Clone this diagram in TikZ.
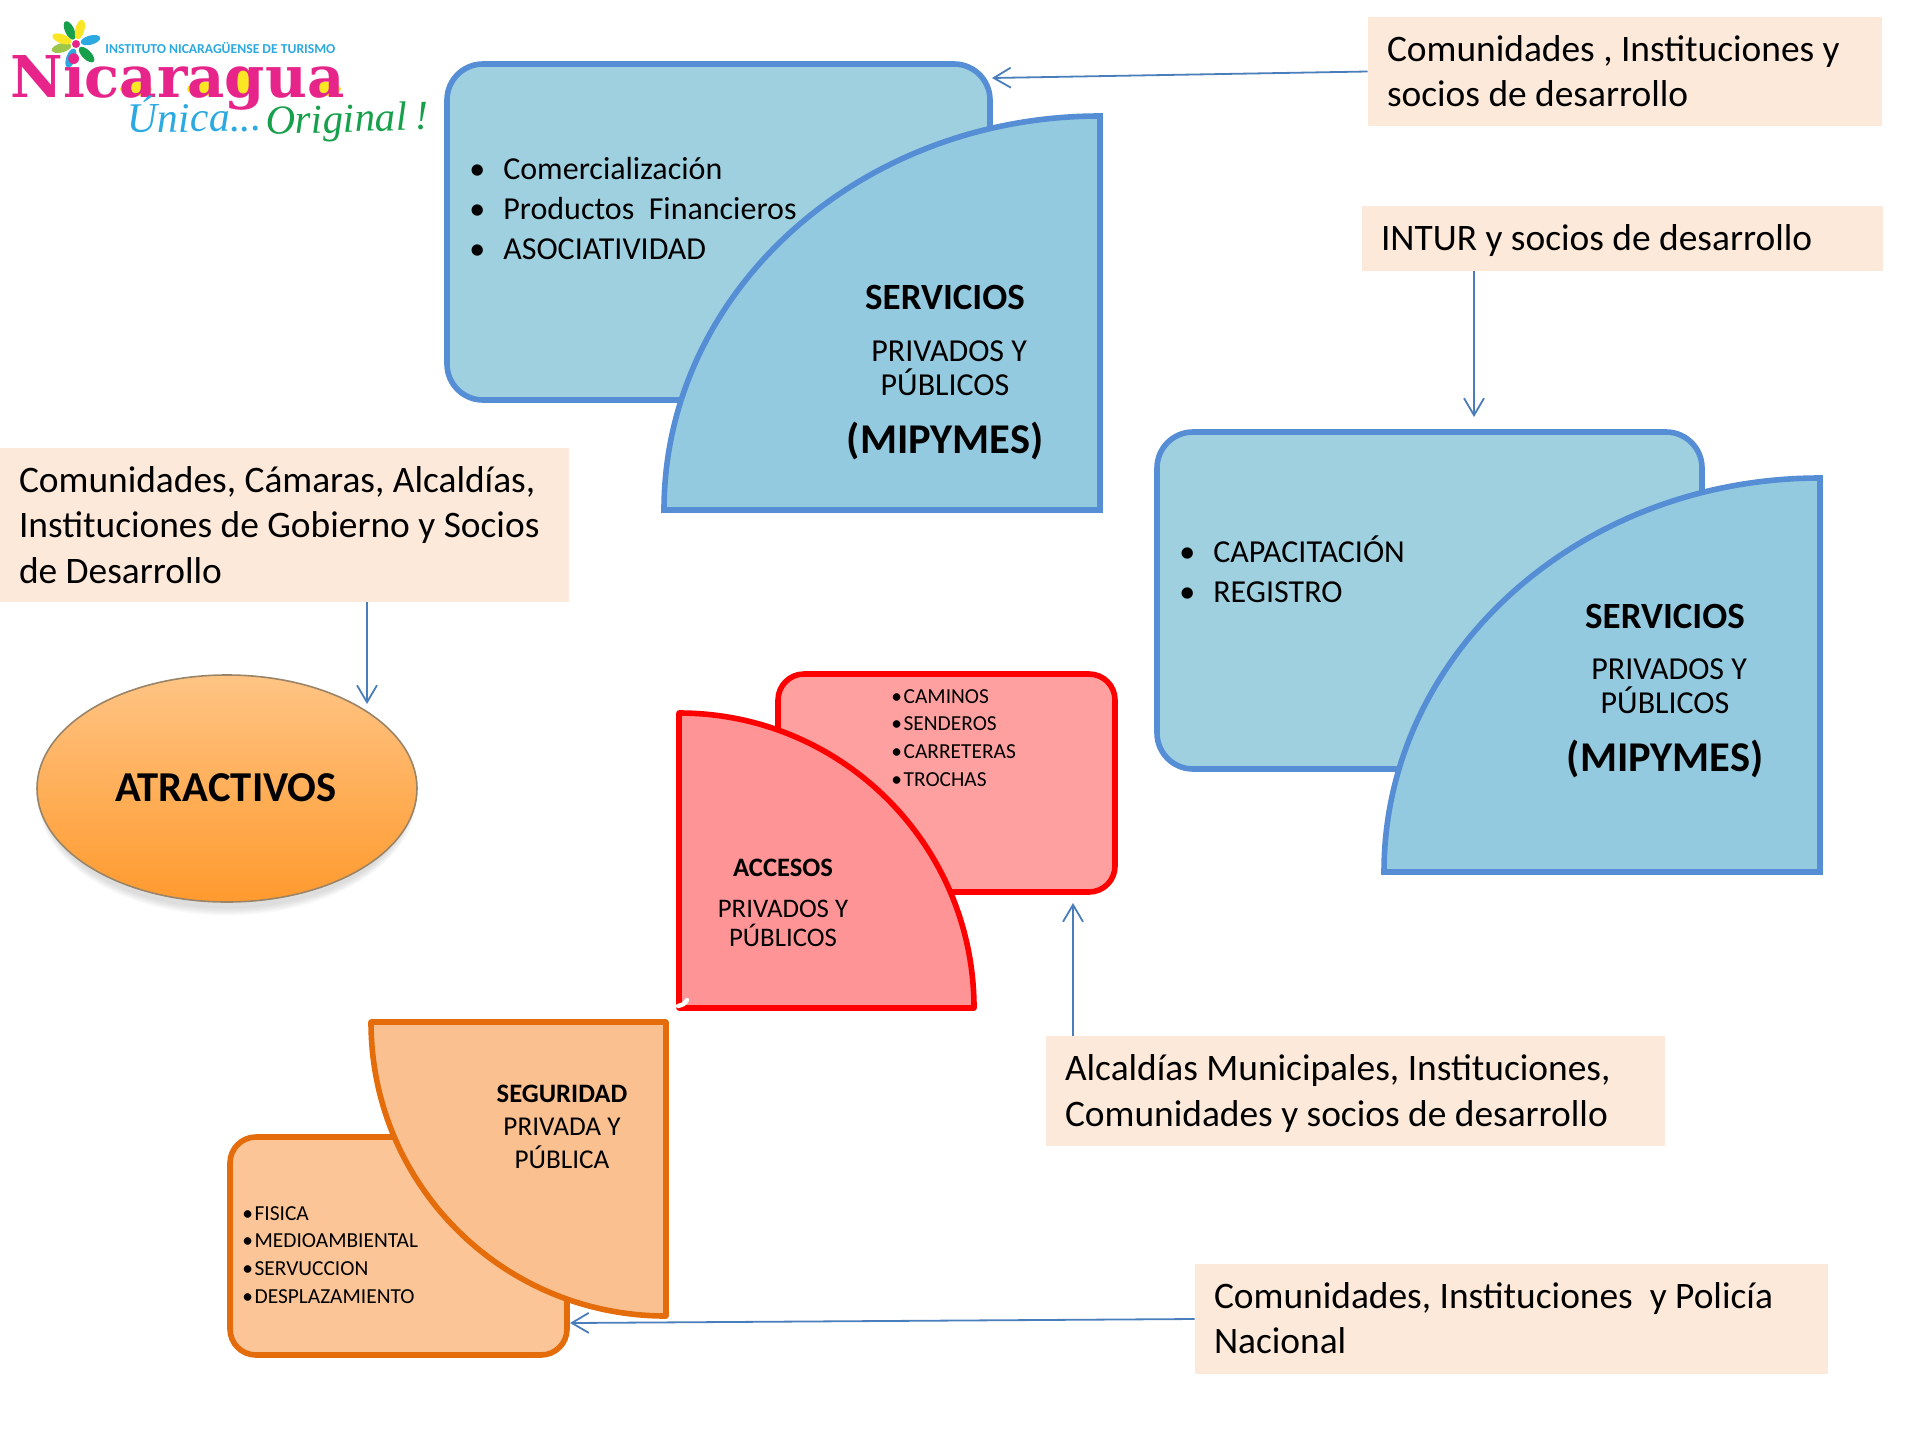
\documentclass[tikz,border=0pt]{standalone}
\usepackage{fontspec}
\setmainfont{Carlito}
\newfontfamily\logoserif{DejaVu Serif}
\newfontfamily\logoscript{Liberation Serif}
\usetikzlibrary{arrows.meta,shapes.geometric,calc}
\definecolor{peach}{HTML}{FDE9D9}
\definecolor{bluefill}{HTML}{9FD0E0}
\definecolor{bluequart}{HTML}{93CADF}
\definecolor{blueline}{HTML}{558ED5}
\definecolor{redfill}{HTML}{FFA0A0}
\definecolor{redquart}{HTML}{FF9497}
\definecolor{orangefill}{HTML}{FBC597}
\definecolor{orangequart}{HTML}{FAC090}
\definecolor{orangeline}{HTML}{E46C0A}
\definecolor{connblue}{HTML}{4A7EBB}
\definecolor{logopink}{HTML}{E6248A}
\definecolor{logoblue}{HTML}{2BA9E0}
\definecolor{logogreen}{HTML}{17A04C}
\definecolor{logoyellow}{HTML}{FBE625}
\definecolor{logolime}{HTML}{9CC74A}
\definecolor{elltop}{HTML}{FFC484}
\definecolor{ellbot}{HTML}{FF9A2E}
\definecolor{ellline}{HTML}{9A8468}
\tikzset{
  peachbox/.style={rectangle,fill=peach,inner ysep=0pt,inner xsep=9.5pt,align=flush left,
    font=\fontsize{18.7}{22.6}\selectfont},
  roundbox/.style={rectangle,rounded corners=#1,inner sep=0pt,line width=2.8pt,line join=round},
  quarter/.style={line width=2.8pt},
  conn/.style={draw=connblue,line width=0.9pt,-{Straight Barb[length=8.5pt,width=10pt,line width=0.9pt]}},
  lista/.style={inner sep=0pt,anchor=north west,align=left,font=\fontsize{16}{20}\selectfont},
  listb/.style={inner sep=0pt,anchor=north west,align=left,font=\fontsize{10.7}{13.8}\selectfont},
  head/.style={inner sep=0pt,align=center,font=\fontsize{18.5}{22}\bfseries\selectfont},
  sub/.style={inner sep=0pt,align=center,font=\fontsize{16}{17}\selectfont},
  big/.style={inner sep=0pt,align=center,font=\fontsize{21.2}{25}\bfseries\selectfont},
  smallhead/.style={inner sep=0pt,align=center,font=\fontsize{13.3}{16}\bfseries\selectfont},
  smallsub/.style={inner sep=0pt,align=center,font=\fontsize{13.4}{14.6}\selectfont},
  smallsubo/.style={inner sep=0pt,align=center,font=\fontsize{13.6}{16.6}\selectfont},
  petal/.style={ellipse,inner sep=0pt,minimum width=10pt,minimum height=4.6pt},
}
\newcommand{\bl}{\textbullet\hspace{9pt}}
\newcommand{\bs}{\textbullet\hspace{0.8pt}}
\begin{document}
\begin{tikzpicture}[x=0.5pt,y=-0.5pt]
\useasboundingbox (0,0) rectangle (1920,1440);

% logo
\foreach \ang/\col [count=\i] in {115/logogreen,75/logoyellow,15/logoblue,-45/logogreen,-110/logoblue,-165/logolime,160/logoyellow}{
  \node[petal,fill=\col,rotate=\ang] (petal\i) at ($(76,44)+(\ang:7.5pt)$) {};
}
\node[circle,fill=logopink,inner sep=0pt,minimum size=4pt] (flowerc) at (76,44) {};
\fill[logoyellow] (136,89) ellipse (8pt and 3.5pt);
\fill[logoyellow] (203,89) ellipse (8pt and 3.5pt);
\fill[logoyellow] (241,81) ellipse (6.5pt and 7pt);
\fill[logoyellow] (325,89) ellipse (8pt and 3.5pt);
\node[inner sep=0pt,anchor=base west,text=logopink] (logonic) at (10,97)
  {\resizebox{167pt}{!}{\logoserif\fontsize{34}{34}\bfseries\selectfont Nicaragua}};
\node[inner sep=0pt,anchor=base west,text=logoblue] (logoinst) at (105,54)
  {\resizebox{115pt}{!}{\fontsize{7}{8}\bfseries\selectfont INSTITUTO NICARAGÜENSE DE TURISMO}};
\node[inner sep=0pt,anchor=base west,text=logoblue,rotate=1] (logounica) at (127,133)
  {\logoscript\fontsize{21}{22}\itshape\selectfont Única...};
\node[inner sep=0pt,anchor=base west,text=logogreen,rotate=2] (logoorig) at (266,135)
  {\logoscript\fontsize{20.5}{22}\itshape\selectfont Original\hspace{4pt}!};

% blue group 1
\node[roundbox=18pt,draw=blueline,fill=bluefill,minimum width=271.5pt,minimum height=168pt] (b1rect) at (718.5,232) {};
\node[lista] (b1list) at (469,157) {\bl Comercialización\\\bl Productos\ \ Financieros\\\bl ASOCIATIVIDAD};
\draw[quarter,draw=blueline,fill=bluequart,line join=miter]
  (664,510) .. controls (664,292) and (859,116) .. (1100,116) -- (1100,510) -- cycle;
\node[head] (b1h) at (945,297) {SERVICIOS};
\node[sub] (b1s) at (945,368) {\hspace*{4.2pt}PRIVADOS Y\\PÚBLICOS};
\node[big] (b1m) at (945,440.5) {(MIPYMES)};

% blue group 2
\node[roundbox=18pt,draw=blueline,fill=bluefill,minimum width=272.5pt,minimum height=168.5pt] (b2rect) at (1429.5,600.5) {};
\node[lista] (b2list) at (1179,535) {\bl CAPACITACIÓN\\\bl REGISTRO};
\draw[quarter,draw=blueline,fill=bluequart,line join=miter]
  (1384,872) .. controls (1384,654) and (1579,478) .. (1820,478) -- (1820,872) -- cycle;
\node[head] (b2h) at (1665,616) {SERVICIOS};
\node[sub] (b2s) at (1665,686) {\hspace*{4.2pt}PRIVADOS Y\\PÚBLICOS};
\node[big] (b2m) at (1665,758.5) {(MIPYMES)};

% red group
\node[roundbox=13pt,draw=red,fill=redfill,minimum width=168.5pt,minimum height=109pt] (rrect) at (946.5,783) {};
\node[listb] (rlist) at (891,689) {\bs CAMINOS\\\bs SENDEROS\\\bs CARRETERAS\\\bs TROCHAS};
\draw[quarter,draw=red,fill=redquart,line join=round]
  (679,713) .. controls (842,713) and (974,845) .. (974,1008) -- (679,1008) -- cycle;
\draw[white,line width=2.2pt,line cap=round] (678,1006) .. controls (682,1005) and (685,1004) .. (687,1000);
\node[smallhead] (rh) at (783,868) {ACCESOS};
\node[smallsub] (rs) at (783,923) {PRIVADOS Y\\PÚBLICOS};

% orange group
\node[roundbox=13pt,draw=orangeline,fill=orangefill,minimum width=168.5pt,minimum height=109pt] (orect) at (398.5,1246) {};
\node[listb] (olist) at (242,1206) {\bs FISICA\\\bs MEDIOAMBIENTAL\\\bs SERVUCCION\\\bs DESPLAZAMIENTO};
\draw[quarter,draw=orangeline,fill=orangequart,line join=round]
  (371,1022) .. controls (371,1185) and (503,1316) .. (666,1316) -- (666,1022) -- cycle;
\node[smallhead] (oh) at (562,1094) {SEGURIDAD};
\node[smallsubo] (os) at (562,1143) {PRIVADA Y\\PÚBLICA};

% atractivos ellipse
\foreach \k in {1,...,6}{
  \fill[black,opacity=0.025] (227,796) ellipse ({92pt+0.5pt*\k} and {55.5pt+0.7pt*\k});
}
\node[ellipse,inner sep=0pt,draw=ellline,line width=0.8pt,top color=elltop,bottom color=ellbot,
  minimum width=190pt,minimum height=113.5pt] (atr) at (227,788.5) {};
\node[inner sep=0pt,font=\fontsize{21.3}{25}\bfseries\selectfont] (atrt) at (226,788) {ATRACTIVOS};

% peach boxes
\node[peachbox,text width=238pt,minimum height=54.5pt] (box1) at (1625,71.5) {Comunidades , Instituciones y\\socios de desarrollo};
\node[peachbox,text width=241.5pt,minimum height=32.5pt] (box2) at (1622.5,238.5) {\rule{0pt}{15.5pt}INTUR y socios de desarrollo};
\node[peachbox,text width=265.5pt,minimum height=77pt] (box3) at (284.5,525) {Comunidades, Cámaras, Alcaldías,\\Instituciones de Gobierno y Socios\\de Desarrollo};
\node[peachbox,text width=290.5pt,minimum height=55pt] (box4) at (1355.5,1091) {\rule{0pt}{15.5pt}Alcaldías Municipales, Instituciones,\\Comunidades y socios de desarrollo};
\node[peachbox,text width=297.5pt,minimum height=55pt] (box5) at (1511.5,1319) {Comunidades, Instituciones\ \ y Policía\\Nacional\rule[-1.2pt]{0pt}{1.2pt}};

% connectors
\coordinate (t1) at (992,78);
\coordinate (t2) at (1474,417);
\coordinate (t3) at (367,704);
\coordinate (t4) at (1073,903);
\coordinate (t5) at (570,1323);
\draw[conn] (box1.west) -- (t1);
\draw[conn] (t2 |- box2.south) -- (t2);
\draw[conn] (t3 |- box3.south) -- (t3);
\draw[conn] (t4 |- box4.north) -- (t4);
\draw[conn] (box5.west) -- (t5);
\end{tikzpicture}
\end{document}
